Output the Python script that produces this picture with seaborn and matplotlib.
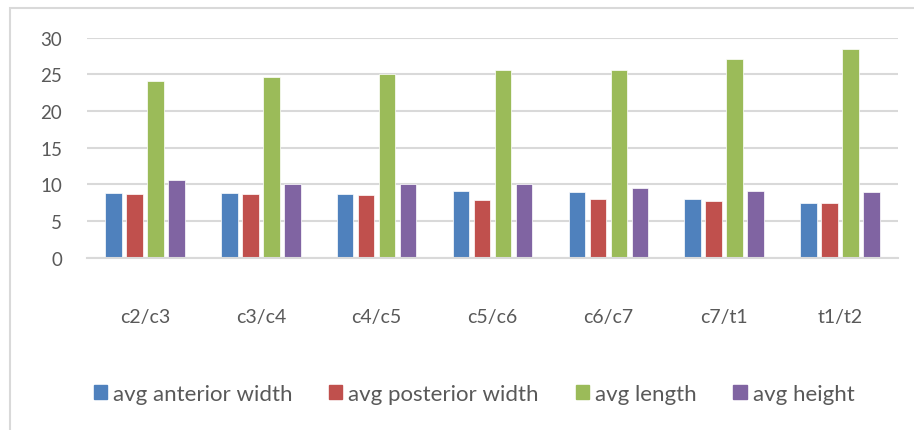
import matplotlib
matplotlib.use("Agg")
import matplotlib.pyplot as plt
import matplotlib.patches as mpatches
import pandas as pd
import seaborn as sns

# Vertebral level pairs and the averaged measurements for each
levels = ["c2/c3", "c3/c4", "c4/c5", "c5/c6", "c6/c7", "c7/t1", "t1/t2"]
anterior_width = [8.82, 8.77, 8.64, 9.05, 8.90, 8.00, 7.50]
posterior_width = [8.68, 8.73, 8.50, 7.90, 8.00, 7.68, 7.45]
length = [24.1, 24.6, 25.05, 25.6, 25.55, 27.1, 28.4]
height = [10.55, 10.05, 10.0, 10.0, 9.5, 9.14, 8.95]

series_names = ["avg anterior width", "avg posterior width", "avg length", "avg height"]
series_values = [anterior_width, posterior_width, length, height]
colors = ["#4F81BD", "#C0504D", "#9BBB59", "#8064A2"]
yticks = [0, 5, 10, 15, 20, 25, 30]

rows = []
for name, vals in zip(series_names, series_values):
    for lvl, v in zip(levels, vals):
        rows.append({"level": lvl, "series": name, "value": v})
df = pd.DataFrame(rows)

sns.set_theme(style="white")
plt.rcParams["font.family"] = ["Lato", "DejaVu Sans"]
text_color = "#595959"
grid_color = "#D9D9D9"

fig = plt.figure(figsize=(9.14, 4.31), dpi=100)
ax = fig.add_axes([87 / 914, (431 - 258.7) / 431, (898 - 87) / 914, 220 / 431])

sns.barplot(
    data=df, x="level", y="value", hue="series",
    hue_order=series_names, order=levels, palette=colors,
    width=0.725, gap=0.21, ax=ax, legend=False,
    edgecolor="white", linewidth=0.5, saturation=1,
)

ax.set_ylim(0, 30)
ax.set_xlim(-0.5, len(levels) - 0.5)
ax.set_yticks(yticks)
ax.set_yticklabels([str(t) for t in yticks])
ax.yaxis.grid(True, color=grid_color, linewidth=1.5)
ax.set_axisbelow(True)
for s in ["top", "right", "left"]:
    ax.spines[s].set_visible(False)
ax.spines["bottom"].set_color(grid_color)
ax.spines["bottom"].set_linewidth(1.5)
ax.set_xlabel("")
ax.set_ylabel("")
ax.tick_params(axis="y", length=0, pad=18, labelsize=13.5, labelcolor=text_color)
ax.tick_params(axis="x", length=0, pad=36, labelsize=14, labelcolor=text_color)

handles = [mpatches.Patch(color=c, label=n) for c, n in zip(colors, series_names)]
fig.legend(
    handles=handles, loc="center", bbox_to_anchor=(474 / 914, (431 - 395) / 431),
    ncol=4, frameon=False, fontsize=16, labelcolor=text_color,
    handlelength=0.6, handleheight=0.6, handletextpad=0.27, columnspacing=1.65,
)

# Chart frame
frame = mpatches.Rectangle(
    (10 / 914, -0.05), 1.0, (431 - 9) / 431 + 0.05,
    transform=fig.transFigure, fill=False, edgecolor=grid_color, linewidth=1.5,
)
fig.patches.append(frame)

fig.savefig("out.png", dpi=100)
